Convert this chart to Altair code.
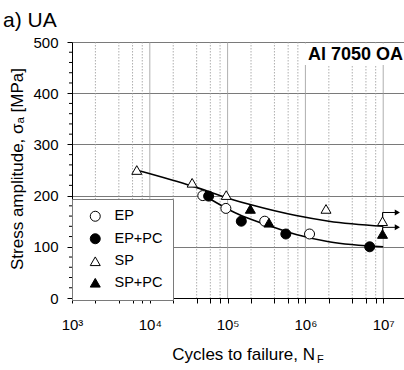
import altair as alt
import pandas as pd

# ---------------- data ----------------
series = ["EP", "EP+PC", "SP", "SP+PC"]

ep_n = [4.8e4, 9.5e4, 3.0e5, 1.13e6]
ep_s = [200, 175, 150, 125]
eppc_n = [5.7e4, 1.5e5, 5.6e5, 6.7e6]
eppc_s = [199, 150, 125, 100]
sp_n = [6.8e3, 3.5e4, 9.6e4, 1.84e6, 9.8e6]
sp_s = [250, 225, 201, 174, 150]
sppc_n = [1.96e5, 3.4e5, 9.8e6]
sppc_s = [174, 147, 125]

# fitted curves
fit_sp_n = [7.5e3, 3.6e4, 1.06e5, 2.0e5, 7.6e5, 2.0e6, 1.0e7]
fit_sp_s = [248, 218, 194, 182, 161, 150, 140]
fit_ep_n = [4.4e4, 1.06e5, 1.4e5, 2.8e5, 7.6e5, 2.0e6, 1.0e7]
fit_ep_s = [205, 172, 163, 146, 124, 110, 100]

# run-out arrows (start at the run-out specimen, step up, point right)
runout_n = [9.8e6, 9.8e6]
runout_from = [157, 131]
runout_level = [167, 138]
runout_end = [1.45e7, 1.45e7]
runout_head = [1.52e7, 1.52e7]

# axes
decades = [1e3, 1e4, 1e5, 1e6, 1e7]
decade_labels = ["10³", "10⁴", "10⁵", "10⁶", "10⁷"]
x_minor = [2e3, 4e3, 6e3, 8e3, 2e4, 4e4, 6e4, 8e4, 2e5, 4e5, 6e5, 8e5,
           2e6, 4e6, 6e6, 8e6]
x_major_grid = [1e4, 1e5, 1e6, 1e7]
y_major = [0, 100, 200, 300, 400, 500]
y_minor = [20, 40, 60, 80, 120, 140, 160, 180, 220, 240, 260, 280,
           320, 340, 360, 380, 420, 440, 460, 480]

panel_title = "a) UA"
material = "Al 7050 OA"
x_title = "Cycles to failure, N"
x_title_sub = "F"
y_title = "Stress amplitude, σₐ [MPa]"

NARROW = "Liberation Sans Narrow, Arial Narrow, Liberation Sans, sans-serif"
SANS = "Liberation Sans, Arial, sans-serif"

W, H = 332, 256

# ---------------- tables ----------------
pts = pd.DataFrame({
    "N": ep_n + eppc_n + sp_n + sppc_n,
    "S": ep_s + eppc_s + sp_s + sppc_s,
    "series": ["EP"] * len(ep_n) + ["EP+PC"] * len(eppc_n)
              + ["SP"] * len(sp_n) + ["SP+PC"] * len(sppc_n),
})
fits = pd.DataFrame({
    "N": fit_sp_n + fit_ep_n,
    "S": fit_sp_s + fit_ep_s,
    "curve": ["SP"] * len(fit_sp_n) + ["EP"] * len(fit_ep_n),
})
arrows_v = pd.DataFrame({"N": runout_n, "S": runout_from, "S2": runout_level})
arrows_h = pd.DataFrame({"N": runout_n, "N2": runout_end, "S": runout_level})
heads = pd.DataFrame({"N": runout_head, "S": runout_level})

xs = alt.Scale(type="log", domain=[1e3, 1.85e7], nice=False)
ys = alt.Scale(domain=[0, 500], nice=False, zero=False)

label_expr = ""
for v, t in zip(decades, decade_labels):
    label_expr += f"datum.value == {int(v)} ? '{t}' : "
label_expr += "''"

x_axis = alt.Axis(values=decades + x_minor, labelExpr=label_expr, grid=False,
                  tickSize=5, tickColor="black", domainColor="black",
                  labelFont=NARROW, labelFontSize=15, labelColor="black",
                  labelPadding=14, labelOverlap=False, labelFlush=False,
                  title=None)
y_axis = alt.Axis(values=y_major, grid=True, gridColor="#7a7a7a", gridWidth=1,
                  tickSize=5, tickColor="black", domainColor="black",
                  labelFont=NARROW, labelFontSize=15, labelColor="black",
                  labelPadding=9, title=None)

# grid
minor_grid = alt.Chart(pd.DataFrame({"v": x_minor})).mark_rule(
    color="#9a9a9a", strokeWidth=0.8, strokeDash=[1.5, 1.5]
).encode(x=alt.X("v:Q", scale=xs, axis=x_axis), y=alt.value(0), y2=alt.value(H))

major_grid = alt.Chart(pd.DataFrame({"v": x_major_grid})).mark_rule(
    color="#9a9a9a", strokeWidth=0.8
).encode(x=alt.X("v:Q", scale=xs), y=alt.value(0), y2=alt.value(H))

ygrid = alt.Chart(pd.DataFrame({"v": y_major})).mark_rule(
    color="#7a7a7a", strokeWidth=0
).encode(y=alt.Y("v:Q", scale=ys, axis=y_axis), x=alt.value(0), x2=alt.value(W))

yminor = alt.Chart(pd.DataFrame({"v": y_minor})).mark_rule(
    color="black", strokeWidth=1
).encode(y=alt.Y("v:Q", scale=ys), x=alt.value(-3), x2=alt.value(0))

# material box
mat_box = alt.Chart(pd.DataFrame({"t": [material]})).mark_rect(
    fill="white", stroke=None
).encode(x=alt.value(231), x2=alt.value(W), y=alt.value(1.5), y2=alt.value(23))
mat_text = alt.Chart(pd.DataFrame({"t": [material]})).mark_text(
    align="right", baseline="alphabetic", font=SANS, fontSize=18,
    fontWeight="bold", color="black"
).encode(text="t:N", x=alt.value(W - 1), y=alt.value(18))

# curves
curves = alt.Chart(fits).mark_line(
    color="black", strokeWidth=1.6, interpolate="monotone"
).encode(x=alt.X("N:Q", scale=xs), y=alt.Y("S:Q", scale=ys),
         detail="curve:N")

# run-out arrows
arr_v = alt.Chart(arrows_v).mark_rule(color="black", strokeWidth=1).encode(
    x=alt.X("N:Q", scale=xs), y=alt.Y("S:Q", scale=ys), y2="S2:Q")
arr_h = alt.Chart(arrows_h).mark_rule(color="black", strokeWidth=1).encode(
    x=alt.X("N:Q", scale=xs), x2="N2:Q", y=alt.Y("S:Q", scale=ys))
arr_head = alt.Chart(heads).mark_point(
    shape="triangle-right", filled=True, color="black", size=36, opacity=1
).encode(x=alt.X("N:Q", scale=xs), y=alt.Y("S:Q", scale=ys))

legend = alt.Legend(title=None, orient="none", legendX=0, legendY=157,
                    fillColor="white", strokeColor="#7a7a7a", padding=10,
                    labelFont=SANS, labelFontSize=14.5, labelColor="black",
                    symbolSize=100, labelOffset=12, rowPadding=6.5,
                    symbolOffset=6, symbolStrokeWidth=1)

points = alt.Chart(pts).mark_point(
    filled=True, strokeWidth=1, size=100, opacity=1
).encode(
    x=alt.X("N:Q", scale=xs),
    y=alt.Y("S:Q", scale=ys),
    fill=alt.Fill("series:N", scale=alt.Scale(
        domain=series, range=["white", "black", "white", "black"]),
        legend=legend),
    stroke=alt.Stroke("series:N", scale=alt.Scale(
        domain=series, range=["black", "black", "black", "black"]),
        legend=legend),
    shape=alt.Shape("series:N", scale=alt.Scale(
        domain=series,
        range=["circle", "circle", "triangle-up", "triangle-up"]),
        legend=legend),
)

# titles
t_panel = alt.Chart(pd.DataFrame({"t": [panel_title]})).mark_text(
    align="left", baseline="alphabetic", font=SANS, fontSize=21, color="black"
).encode(text="t:N", x=alt.value(-69), y=alt.value(-15))
t_x = alt.Chart(pd.DataFrame({"t": [x_title]})).mark_text(
    align="right", baseline="alphabetic", font=SANS, fontSize=17, color="black"
).encode(text="t:N", x=alt.value(243), y=alt.value(318))
t_xs = alt.Chart(pd.DataFrame({"t": [x_title_sub]})).mark_text(
    align="left", baseline="alphabetic", font=SANS, fontSize=11, color="black"
).encode(text="t:N", x=alt.value(245), y=alt.value(321))
t_y = alt.Chart(pd.DataFrame({"t": [y_title]})).mark_text(
    align="center", baseline="alphabetic", font=SANS, fontSize=17,
    color="black", angle=270
).encode(text="t:N", x=alt.value(-49), y=alt.value(127))

chart = alt.layer(
    minor_grid, major_grid, ygrid, yminor, mat_box, mat_text,
    curves, arr_v, arr_h, arr_head, points,
    t_panel, t_x, t_xs, t_y
).properties(
    width=W, height=H,
    padding={"left": 72, "top": 42, "right": 0, "bottom": 72},
    autosize=alt.AutoSizeParams(type="none"),
).configure_view(stroke=None)

chart.save("out.html", embed_options={"renderer": "svg", "actions": False})
